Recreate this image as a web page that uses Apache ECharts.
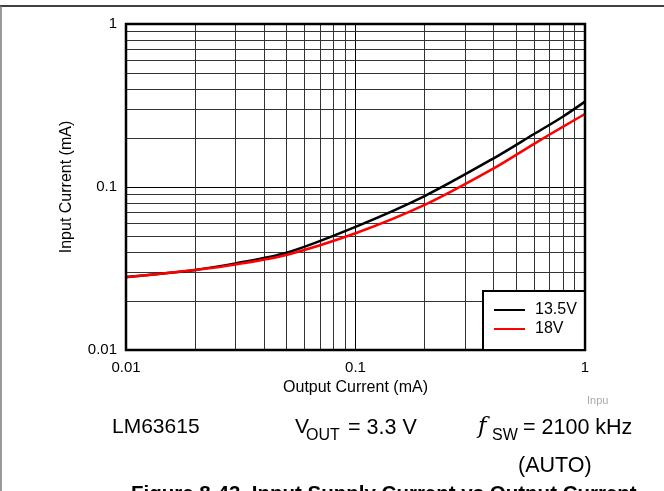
<!DOCTYPE html>
<html>
<head>
<meta charset="utf-8">
<script src="https://cdn.jsdelivr.net/npm/echarts@6/dist/echarts.min.js"></script>
<style>html,body{margin:0;padding:0;background:#fff;}#c{width:664px;height:491px;}</style>
</head>
<body>
<div id="c"></div>
<script>
// Data
const outputCurrent = [0.01, 0.02, 0.03, 0.05, 0.1, 0.2, 0.4, 0.6, 0.8, 1];
const vin13_5 = [0.0280, 0.0310, 0.0340, 0.0395, 0.0570, 0.0880, 0.150, 0.2115, 0.270, 0.334];
const vin18   = [0.0279, 0.0310, 0.0335, 0.0383, 0.0520, 0.0776, 0.130, 0.184, 0.234, 0.2805];
const seriesNames = ['13.5V', '18V'];
const xTickLabels = ['0.01', '0.1', '1'];
const yTickLabels = ['0.01', '0.1', '1'];
const minorGrid = [0.02,0.03,0.04,0.05,0.06,0.07,0.08,0.09,0.2,0.3,0.4,0.5,0.6,0.7,0.8,0.9];

const FONT = 'Arial, "Liberation Sans", Helvetica, sans-serif';
const chart = echarts.init(document.getElementById('c'), null, {renderer: 'canvas'});
const pair = (xs, ys) => xs.map((x, i) => [x, ys[i]]);
const fmt = (labels) => (v) => { const s = labels.find(l => Math.abs(parseFloat(l) - v) < 1e-9); return s || ''; };

const gridMarks = [];
minorGrid.forEach(v => gridMarks.push({xAxis: v}));
minorGrid.forEach(v => gridMarks.push({yAxis: v}));

chart.setOption({
  animation: false,
  backgroundColor: '#fff',
  grid: {left: 126, right: 79, top: 24, bottom: 141, show: true, borderColor: '#000', borderWidth: 2.5, backgroundColor: 'transparent', z: 10},
  xAxis: {
    type: 'log', logBase: 10, min: 0.01, max: 1,
    name: 'Output Current (mA)', nameLocation: 'middle', nameGap: 29,
    nameTextStyle: {fontFamily: FONT, fontSize: 16, color: '#000'},
    axisLine: {show: false}, axisTick: {show: false},
    axisLabel: {fontFamily: FONT, fontSize: 15, color: '#000', margin: 10, formatter: fmt(xTickLabels)},
    splitLine: {show: true, lineStyle: {color: '#000', width: 1}}
  },
  yAxis: {
    type: 'log', logBase: 10, min: 0.01, max: 1,
    name: 'Input Current (mA)', nameLocation: 'middle', nameGap: 51,
    nameTextStyle: {fontFamily: FONT, fontSize: 16, color: '#000'},
    axisLine: {show: false}, axisTick: {show: false},
    axisLabel: {fontFamily: FONT, fontSize: 15, color: '#000', margin: 9, formatter: fmt(yTickLabels)},
    splitLine: {show: true, lineStyle: {color: '#000', width: 1}}
  },
  legend: {
    data: seriesNames,
    left: 483, top: 291,
    orient: 'vertical',
    backgroundColor: '#fff', borderColor: '#000', borderWidth: 2,
    padding: [11, 8, 13, 10],
    itemWidth: 31, itemHeight: 14, itemGap: 3,
    itemStyle: {color: 'rgba(0,0,0,0)', borderWidth: 0, opacity: 0},
    textStyle: {fontFamily: FONT, fontSize: 16, color: '#000', padding: [0, 0, 0, 5]},
    z: 20
  },
  series: [
    {
      name: '_grid', type: 'line', data: [], z: 1, silent: true,
      markLine: {silent: true, symbol: ['none', 'none'], label: {show: false},
        lineStyle: {color: '#333', width: 1, type: 'solid'}, data: gridMarks, animation: false}
    },
    {name: seriesNames[0], type: 'line', data: pair(outputCurrent, vin13_5), smooth: 0.3, symbol: 'none', z: 5,
     lineStyle: {color: '#000', width: 2.5}, itemStyle: {color: '#000'}},
    {name: seriesNames[1], type: 'line', data: pair(outputCurrent, vin18), smooth: 0.3, symbol: 'none', z: 6,
     lineStyle: {color: '#ff0000', width: 2.5}, itemStyle: {color: '#ff0000'}}
  ],
  graphic: [
    {type: 'line', shape: {x1: 0, y1: 6, x2: 664, y2: 6}, style: {stroke: '#000', lineWidth: 1.5}},
    {type: 'line', shape: {x1: 1, y1: 6, x2: 1, y2: 491}, style: {stroke: '#777', lineWidth: 1.5}},
    {type: 'text', left: 587, top: 395, style: {text: 'Inpu', fontFamily: FONT, fontSize: 11, fill: '#aaa'}},
    {type: 'text', left: 112, top: 417, style: {text: 'LM63615', fontFamily: FONT, fontSize: 21, fill: '#000'}},
    {type: 'text', left: 295, top: 417, style: {text: 'V', fontFamily: FONT, fontSize: 21, fill: '#000'}},
    {type: 'text', left: 306, top: 428, style: {text: 'OUT', fontFamily: FONT, fontSize: 16, fill: '#000'}},
    {type: 'text', left: 348, top: 417, style: {text: '= 3.3 V', fontFamily: FONT, fontSize: 21.5, fill: '#000'}},
    {type: 'text', left: 478, top: 416, style: {text: 'f', fontFamily: '"DejaVu Serif", serif', fontStyle: 'italic', fontSize: 23, fill: '#000'}},
    {type: 'text', left: 492, top: 428, style: {text: 'SW', fontFamily: FONT, fontSize: 16, fill: '#000'}},
    {type: 'text', left: 523, top: 417, style: {text: '= 2100 kHz', fontFamily: FONT, fontSize: 21.5, fill: '#000'}},
    {type: 'text', left: 518, top: 455, style: {text: '(AUTO)', fontFamily: FONT, fontSize: 21.5, fill: '#000'}},
    {type: 'text', left: 131, top: 484, style: {text: 'Figure 8-43. Input Supply Current vs Output Current', fontFamily: FONT, fontWeight: 'bold', fontSize: 20.5, fill: '#000'}}
  ]
});
</script>
</body>
</html>
